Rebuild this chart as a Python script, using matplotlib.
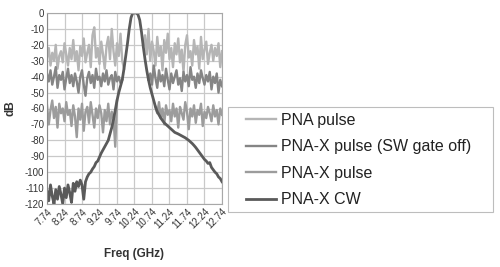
import numpy as np
import matplotlib
matplotlib.use("Agg")
import matplotlib.pyplot as plt
from matplotlib.patches import Rectangle

plt.rcParams["font.family"] = ["Liberation Sans", "DejaVu Sans"]

# sweep: 7.74 .. 12.74 GHz, 101 points
freq = np.linspace(7.74, 12.74, 101)
x_ticks = [7.74, 8.24, 8.74, 9.24, 9.74, 10.24, 10.74, 11.24, 11.74, 12.24, 12.74]
y_ticks = list(range(0, -121, -10))

labels = ["PNA pulse", "PNA-X pulse (SW gate off)", "PNA-X pulse", "PNA-X CW"]
colors = ["#b5b5b5", "#858585", "#9c9c9c", "#5a5a5a"]

cw = [-112, -118, -108, -115, -120, -111, -117, -109, -114, -120,
      -110, -116, -108, -113, -119, -107, -112, -106, -109, -105,
      -108, -117, -106, -103, -101, -100, -98, -96.5, -94, -93,
      -90.5, -88, -86, -84, -82, -80, -76, -72, -67, -61,
      -55, -50, -46, -42, -35, -27, -19, -10, -3, 0,
      0, 0, -1, -4.5, -12, -21, -29, -36, -42, -47,
      -51, -55, -59, -62, -64, -66, -67.5, -69, -70, -71,
      -72, -73, -74, -75, -75.5, -76, -76.6, -77.2, -77.8, -78.4,
      -79.2, -80, -81, -82, -83.2, -84.5, -86, -87.5, -89, -90.5,
      -92, -93, -94.5, -94, -97, -98.5, -100, -101, -103, -104,
      -106]

pna_left = [-28, -22, -33, -25, -30, -20, -35, -27, -24, -31,
            -19, -26, -33, -22, -29, -17, -30, -24, -36, -21,
            -27, -16, -31, -25, -20, -34, -14, -9, -28, -22,
            -32, -18, -26, -35, -21, -15, -29, -10, -24, -33,
            -19, -27, -13, -30, -35]
pna_right = [-21, -14, -26, -10, -30, -18, -24, -33, -15, -27,
             -21, -36, -17, -25, -13, -29, -22, -34, -19, -26,
             -16, -31, -23, -37, -20, -14, -28, -24, -33, -17,
             -26, -21, -35, -15, -29, -23, -18, -32, -25, -20,
             -30, -22, -27, -19, -34, -24]

gate_left = [-38, -43, -36, -45, -40, -34, -47, -39, -42, -37,
             -48, -41, -35, -44, -39, -46, -38, -43, -50, -40,
             -36, -45, -52, -41, -37, -44, -39, -47, -35, -42,
             -40, -46, -38, -43, -36, -45, -41, -39, -48, -37,
             -43, -40, -44, -42]
gate_right = [-42, -38, -45, -33, -41, -47, -36, -43, -39, -46,
              -35, -42, -48, -38, -44, -40, -36, -45, -41, -49,
              -37, -43, -39, -46, -34, -42, -40, -47, -38, -44,
              -36, -41, -45, -39, -43, -37, -48, -40, -44, -38,
              -50, -42, -46]

pnax_left = [-58, -70, -61, -55, -66, -59, -72, -57, -63, -60,
             -68, -56, -64, -61, -71, -58, -65, -78, -60, -67,
             -57, -74, -62, -59, -69, -56, -64, -72, -60, -66,
             -58, -63, -75, -61, -68, -57, -70, -62, -66, -84,
             -55]
pnax_right = [-59, -63, -56, -66, -60, -70, -58, -64, -61, -68,
              -57, -65, -60, -72, -59, -63, -67, -56, -62, -73,
              -60, -65, -58, -69, -61, -64, -57, -71, -62, -66,
              -59, -63, -68, -58, -65, -61, -70, -60, -64]


def join(left, right, n=101):
    gap = n - len(left) - len(right)
    vals = list(left) + [np.nan] * gap + list(right)
    assert len(vals) == n
    return np.array(vals, dtype=float)


pna = join(pna_left, pna_right)
gate = join(gate_left, gate_right)
pnax = join(pnax_left, pnax_right)
cw = np.array(cw, dtype=float)
assert len(cw) == 101

W, H = 500, 267
fig = plt.figure(figsize=(W / 100, H / 100), dpi=100)
ax = fig.add_axes([47 / W, 1 - 204 / H, 175 / W, 191 / H])

h1, = ax.plot(freq, pna, color=colors[0], lw=1.7)
h2, = ax.plot(freq, gate, color=colors[1], lw=1.7)
h3, = ax.plot(freq, pnax, color=colors[2], lw=1.7)
h4, = ax.plot(freq, cw, color=colors[3], lw=2.0)

ax.set_xlim(7.74, 12.74)
ax.set_ylim(-120, 0)
ax.set_xticks(x_ticks)
ax.set_xticklabels([f"{t:.2f}" for t in x_ticks], rotation=45,
                   ha="right", rotation_mode="anchor", fontsize=7)
ax.set_yticks(y_ticks)
ax.set_yticklabels([str(t) for t in y_ticks], fontsize=7)
ax.tick_params(length=0, pad=2, labelcolor="#333333")
ax.grid(True, color="#c9c9c9", lw=0.9)
ax.set_axisbelow(True)
for side in ["top", "right", "bottom"]:
    ax.spines[side].set_color("#a8a8a8")
ax.spines["left"].set_color("#8a8a8a")

ax.set_ylabel("dB", fontsize=8.5, fontweight="bold", labelpad=6,
              color="#333333")
ax.set_xlabel("Freq (GHz)", fontsize=8.5, fontweight="bold", labelpad=12,
              color="#333333")

# legend box drawn separately so the side padding can be wider
fig.patches.append(Rectangle((228 / W, 1 - 212 / H), 265 / W, 105 / H,
                             transform=fig.transFigure, facecolor="white",
                             edgecolor="#bdbdbd", lw=0.8))
leg = fig.legend([h1, h2, h3, h4], labels, loc="upper left",
                 bbox_to_anchor=(246 / W, 1 - 113 / H),
                 fontsize=11.5, frameon=False, handlelength=1.9,
                 handletextpad=0.3, labelspacing=0.72, borderpad=0,
                 borderaxespad=0)
for t in leg.get_texts():
    t.set_color("#222222")

fig.savefig("out.png", dpi=100)
